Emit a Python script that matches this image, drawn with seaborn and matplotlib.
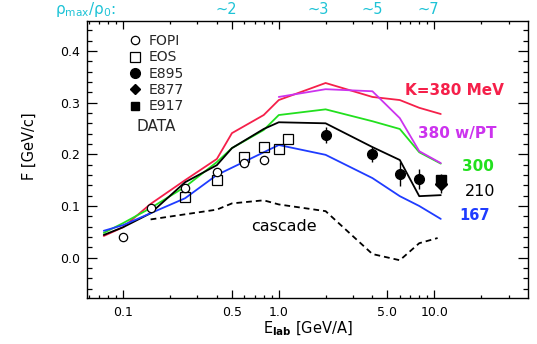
import numpy as np
import pandas as pd
import matplotlib
matplotlib.use("Agg")
import matplotlib.pyplot as plt
import seaborn as sns
from matplotlib.ticker import FixedLocator, FixedFormatter, MultipleLocator, FormatStrFormatter, NullFormatter
from matplotlib.lines import Line2D

# ---------------- model curves ----------------
e_main = [0.075, 0.1, 0.15, 0.25, 0.4, 0.5, 0.8, 1.0, 2, 4, 6, 8, 11]
f_k380 = [0.042, 0.059, 0.104, 0.150, 0.191, 0.241, 0.276, 0.305, 0.338, 0.311, 0.305, 0.290, 0.278]
f_k300 = [0.048, 0.067, 0.096, 0.137, 0.185, 0.212, 0.247, 0.276, 0.287, 0.264, 0.249, 0.204, 0.182]
f_k210 = [0.044, 0.059, 0.086, 0.146, 0.179, 0.212, 0.249, 0.262, 0.260, 0.214, 0.189, 0.119, 0.121]
e_k167 = [0.075, 0.1, 0.15, 0.25, 0.4, 1.0, 2, 4, 6, 8, 11]
f_k167 = [0.052, 0.063, 0.086, 0.115, 0.160, 0.218, 0.199, 0.154, 0.119, 0.100, 0.075]
e_pt = [1.0, 2, 4, 6, 8, 11]
f_pt = [0.311, 0.326, 0.322, 0.270, 0.206, 0.183]
e_casc = [0.15, 0.4, 0.5, 0.8, 1.0, 2, 4, 6, 8, 10.5]
f_casc = [0.074, 0.093, 0.105, 0.111, 0.103, 0.090, 0.007, -0.005, 0.028, 0.038]

# ---------------- data ----------------
e_fopi = [0.1, 0.15, 0.25, 0.4, 0.6, 0.8]
f_fopi = [0.040, 0.096, 0.135, 0.166, 0.183, 0.189]
err_fopi = [0.008, 0.008, 0.008, 0.008, 0.008, 0.008]
e_eos = [0.25, 0.4, 0.6, 0.8, 1.0, 1.15]
f_eos = [0.117, 0.150, 0.195, 0.214, 0.210, 0.229]
e_e895 = [2, 4, 6, 8]
f_e895 = [0.237, 0.200, 0.162, 0.152]
err_e895 = [0.016, 0.014, 0.023, 0.019]
e_e877 = [11]
f_e877 = [0.142]
err_e877 = [0.017]
e_e917 = [11]
f_e917 = [0.150]
err_e917 = [0.012]

rho_pos = [0.46, 1.8, 4.0, 9.1]
rho_txt = ["~2", "~3", "~5", "~7"]

xticks = [0.1, 0.5, 1, 5, 10]
xticklabels = ["0.1", "0.5", "1.0", "5.0", "10.0"]
xminor = [0.06, 0.07, 0.08, 0.09, 0.2, 0.3, 0.4, 0.6, 0.7, 0.8, 0.9,
          2, 3, 4, 6, 7, 8, 9, 20, 30]

RED = "#f5204a"
GREEN = "#22e01e"
BLACK = "#000000"
BLUE = "#1f3cff"
MAGENTA = "#cc33ee"
CYAN = "#1ec3d6"

sns.set_theme(style="ticks")
plt.rcParams["font.family"] = ["DejaVu Sans"]
plt.rcParams["mathtext.fontset"] = "dejavusans"

fig = plt.figure(figsize=(5.37, 3.44), dpi=100)
ax = fig.add_axes([0.162, 0.1323, 0.8212, 0.8067])

curves = [("380", e_main, f_k380), ("300", e_main, f_k300), ("210", e_main, f_k210),
          ("167", e_k167, f_k167), ("380pt", e_pt, f_pt), ("cascade", e_casc, f_casc)]
rows = []
for name, es, fs in curves:
    for e, f in zip(es, fs):
        rows.append((name, e, f))
df = pd.DataFrame(rows, columns=["model", "E", "F"])
palette = {"380": RED, "300": GREEN, "210": BLACK, "167": BLUE, "380pt": MAGENTA, "cascade": BLACK}
dashes = {"380": "", "300": "", "210": "", "167": "", "380pt": "", "cascade": (3.2, 2.2)}
sns.lineplot(data=df, x="E", y="F", hue="model", style="model", palette=palette,
             dashes=dashes, estimator=None, sort=False, legend=False, lw=1.3, ax=ax)

ek = dict(ecolor="black", elinewidth=1.0, capsize=0, ls="none")
ax.errorbar(e_fopi, f_fopi, yerr=err_fopi, fmt="o", ms=6, mfc="white", mec="black", mew=0.9, **ek)
ax.plot(e_eos, f_eos, "s", ms=7, mfc="none", mec="black", mew=0.9, ls="none")
ax.errorbar(e_e895, f_e895, yerr=err_e895, fmt="o", ms=7, mfc="black", mec="black", **ek)
ax.errorbar(e_e877, f_e877, yerr=err_e877, fmt="D", ms=6, mfc="black", mec="black", **ek)
ax.errorbar(e_e917, f_e917, yerr=err_e917, fmt="s", ms=6.5, mfc="black", mec="black", **ek)

ax.set_xscale("log")
ax.set_xlim(0.0585, 40)
ax.set_ylim(-0.079, 0.458)

ax.xaxis.set_major_locator(FixedLocator(xticks))
ax.xaxis.set_major_formatter(FixedFormatter(xticklabels))
ax.xaxis.set_minor_locator(FixedLocator(xminor))
ax.xaxis.set_minor_formatter(NullFormatter())
ax.yaxis.set_major_locator(MultipleLocator(0.1))
ax.yaxis.set_minor_locator(MultipleLocator(0.02))
ax.yaxis.set_major_formatter(FormatStrFormatter("%.1f"))

ax.tick_params(axis="both", which="both", direction="in", top=True, right=True,
               color="black", width=0.9, labelsize=9, labelcolor="black")
ax.tick_params(axis="x", which="major", length=5.5, pad=5.5)
ax.tick_params(axis="x", which="minor", length=2.5)
ax.tick_params(axis="y", which="major", length=7, pad=5)
ax.tick_params(axis="y", which="minor", length=3.5)
for s in ax.spines.values():
    s.set_color("black")
    s.set_linewidth(1.0)

ax.set_xlabel(r"E$_{\mathbf{lab}}$ [GeV/A]", fontsize=10.5, labelpad=0, color="black")
ax.set_ylabel("F [GeV/c]", fontsize=10.5, color="black")
ax.yaxis.set_label_coords(-0.113, 0.55)

# legend
handles = [
    Line2D([], [], marker="o", ls="none", ms=6, mfc="white", mec="black", mew=0.9),
    Line2D([], [], marker="s", ls="none", ms=7, mfc="white", mec="black", mew=0.9),
    Line2D([], [], marker="o", ls="none", ms=7, mfc="black", mec="black"),
    Line2D([], [], marker="D", ls="none", ms=5, mfc="black", mec="black"),
    Line2D([], [], marker="s", ls="none", ms=6, mfc="black", mec="black"),
]
labels = ["FOPI", "EOS", "E895", "E877", "E917"]
leg = ax.legend(handles, labels, loc="upper left", bbox_to_anchor=(0.0916, 0.953),
                frameon=False, fontsize=10, handlelength=1.1, handletextpad=0.45,
                labelspacing=0.17, borderpad=0, borderaxespad=0)
ax.text(0.113, 0.62, "DATA", transform=ax.transAxes, fontsize=11, va="center", ha="left")

# curve labels
ax.text(6.5, 0.323, "K=380 MeV", color=RED, fontsize=11, fontweight="bold", va="center")
ax.text(7.8, 0.240, "380 w/PT", color=MAGENTA, fontsize=11, fontweight="bold", va="center")
ax.text(15.0, 0.176, "300", color=GREEN, fontsize=11, fontweight="bold", va="center")
ax.text(15.8, 0.128, "210", color="black", fontsize=11.5, va="center")
ax.text(14.4, 0.081, "167", color=BLUE, fontsize=10.5, fontweight="bold", va="center")
ax.text(0.66, 0.061, "cascade", color="black", fontsize=11.5, va="center")

# density labels on top
trans = ax.get_xaxis_transform()
for xp, t in zip(rho_pos, rho_txt):
    ax.text(xp, 1.042, t, transform=trans, color=CYAN, fontsize=10.5, ha="center", va="center")
ax.text(-0.073, 1.04, "ρ$_{\\mathrm{max}}$/ρ$_{0}$:", transform=ax.transAxes,
        color=CYAN, fontsize=11, ha="left", va="center")

fig.savefig("out.png", dpi=100)
